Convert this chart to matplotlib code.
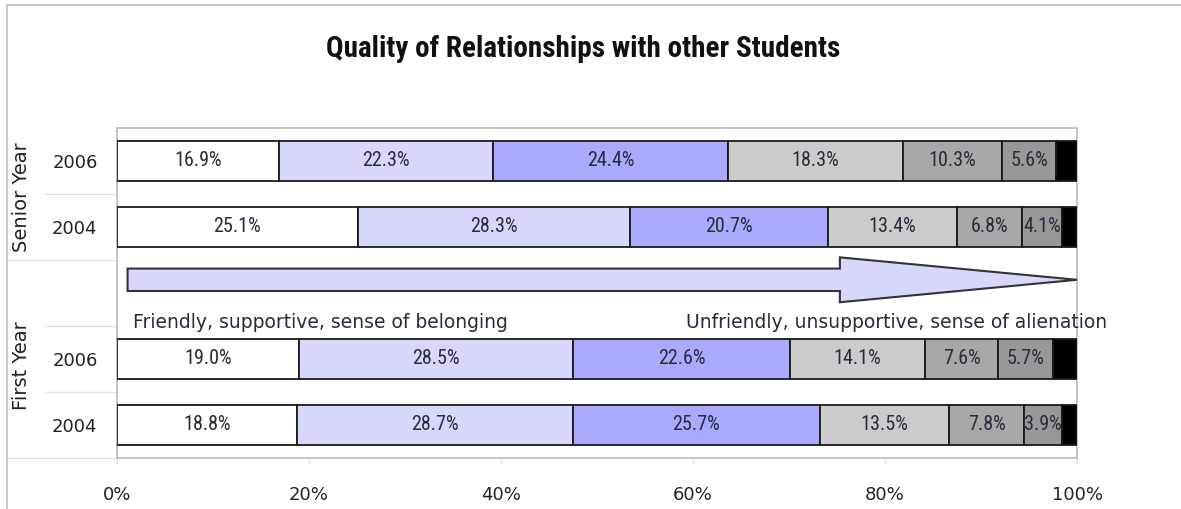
import matplotlib
matplotlib.use("Agg")
import matplotlib.pyplot as plt
from matplotlib.patches import Polygon
from matplotlib.lines import Line2D
import numpy as np
import logging
logging.getLogger("matplotlib.font_manager").setLevel(logging.ERROR)

# ---------------- data ----------------
groups = ["Senior Year", "Senior Year", "First Year", "First Year"]
years = ["2006", "2004", "2006", "2004"]
s1 = [16.9, 25.1, 19.0, 18.8]   # most friendly
s2 = [22.3, 28.3, 28.5, 28.7]
s3 = [24.4, 20.7, 22.6, 25.7]
s4 = [18.3, 13.4, 14.1, 13.5]
s5 = [10.3, 6.8, 7.6, 7.8]
s6 = [5.6, 4.1, 5.7, 3.9]
s7 = [2.2, 1.6, 2.5, 1.6]       # least friendly (unlabelled)
series = [s1, s2, s3, s4, s5, s6, s7]
labelled = [True, True, True, True, True, True, False]
colors = ["#FFFFFF", "#D8D8FF", "#AAAAFF", "#CCCCCC", "#A8A8A8", "#989898", "#000000"]
title = "Quality of Relationships with other Students"
left_text = "Friendly, supportive, sense of belonging"
right_text = "Unfriendly, unsupportive, sense of alienation"
xticks = [0, 20, 40, 60, 80, 100]

# ---------------- figure ----------------
W, H = 1181, 509
fig = plt.figure(figsize=(W / 100, H / 100), dpi=100)
fig.patch.set_facecolor("white")

ax_l, ax_r, ax_t, ax_b = 117, 1077, 128, 458
ax = fig.add_axes([ax_l / W, 1 - ax_b / H, (ax_r - ax_l) / W, (ax_b - ax_t) / H])

narrow = ["Roboto Condensed", "Liberation Sans Narrow", "Roboto", "DejaVu Sans"]
txtcol = "#222222"

pos = [0, 1, 3, 4]
left = np.zeros(len(pos))
for vals, col, lab in zip(series, colors, labelled):
    vals = np.array(vals, dtype=float)
    ax.barh(pos, vals, left=left, height=0.6, color=col,
            edgecolor="#1a1a1a", linewidth=1.3, zorder=3)
    if lab:
        for p, l, v in zip(pos, left, vals):
            ax.text(l + v / 2, p, f"{v:.1f}%", ha="center", va="center",
                    fontsize=14.5, family=narrow, color="#2a2a3a", zorder=4)
    left += vals

ax.set_xlim(0, 100)
ax.set_ylim(4.5, -0.5)

# arrow (decoration)
yc = 1.80
arrow = Polygon([(1.1, yc - 0.17), (75.3, yc - 0.17), (75.3, yc - 0.34),
                 (100, yc), (75.3, yc + 0.34), (75.3, yc + 0.17), (1.1, yc + 0.17)],
                closed=True, facecolor="#D8D8FF", edgecolor="#333333", linewidth=1.5,
                zorder=3, clip_on=False)
ax.add_patch(arrow)
ax.text(1.7, 2.44, left_text, ha="left", va="center", fontsize=13.5,
        color="#2a2a3a", family="DejaVu Sans")
ax.text(59.3, 2.44, right_text, ha="left", va="center", fontsize=13.5,
        color="#2a2a3a", family="DejaVu Sans", clip_on=False)

# axes styling
for s in ax.spines.values():
    s.set_color("#BBBBBB")
    s.set_linewidth(1.2)
ax.set_xticks(xticks)
ax.set_xticklabels([f"{t}%" for t in xticks], fontsize=13, color=txtcol)
ax.tick_params(axis="x", direction="out", length=4, color="#DDDDDD", pad=16)
ax.set_yticks(pos)
ax.set_yticklabels(years, fontsize=13, color=txtcol)
ax.tick_params(axis="y", length=0, pad=14)

# category separators in label area
tr = ax.get_yaxis_transform()
def sep(y, xpix):
    ax.add_line(Line2D([(xpix - ax_l) / (ax_r - ax_l), 0], [y, y], transform=tr,
                       color="#E2E2E2", linewidth=1, clip_on=False))
sep(0.5, 45)
sep(1.5, 8)
sep(2.5, 45)
sep(3.5, 45)
sep(4.5, 8)

# group labels
fig.text(22 / W, 1 - 197 / H, "Senior Year", rotation=90, ha="center", va="center",
         fontsize=14, color=txtcol)
fig.text(22 / W, 1 - 366 / H, "First Year", rotation=90, ha="center", va="center",
         fontsize=14, color=txtcol)

# title
fig.text(583 / W, 1 - 49 / H, title, ha="center", va="center", fontsize=21,
         fontweight="bold", family=["Roboto Condensed", "Liberation Sans Narrow", "Roboto", "DejaVu Sans"],
         color="#111111")

# outer frame lines
fig.add_artist(Line2D([7 / W, 7 / W], [0, 1 - 5 / H], transform=fig.transFigure,
                      color="#C8C8C8", linewidth=1.5))
fig.add_artist(Line2D([7 / W, 1], [1 - 5 / H, 1 - 5 / H], transform=fig.transFigure,
                      color="#C8C8C8", linewidth=1.5))

fig.savefig("out.png", dpi=100, facecolor="white")
